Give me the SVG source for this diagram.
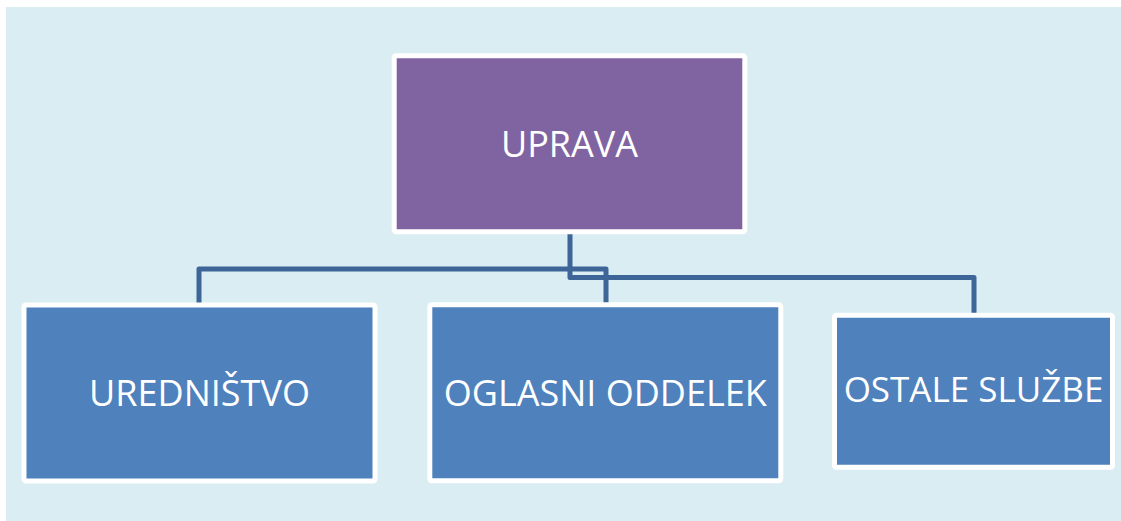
<svg xmlns="http://www.w3.org/2000/svg" width="1121" height="521" viewBox="0 0 1121 521">
<style>
.box{stroke:#ffffff;stroke-width:5;}
.top{fill:#8064a2;}
.sub{fill:#4f81bd;}
.lbl{font-family:"Open Sans","Liberation Sans",sans-serif;font-size:36px;fill:#ffffff;text-anchor:middle;}
.conn{fill:none;stroke:#3d6597;stroke-width:5;stroke-linejoin:round;}
</style>
<rect x="0" y="0" width="1121" height="521" fill="#ffffff"/>
<rect x="6" y="7" width="1115" height="514" fill="#daedf3"/>
<g id="connectors">
<path class="conn" d="M570,233 V277.5 H974 V314"/>
<path class="conn" d="M199,303 V269 H606 V303"/>
</g>
<g id="node-uprava">
<rect class="box top" x="394.2" y="55.8" width="350.6" height="176" rx="2"/>
<text class="lbl" x="569.5" y="157">UPRAVA</text>
</g>
<g id="node-urednistvo">
<rect class="box sub" x="24" y="305" width="351" height="176" rx="2"/>
<text class="lbl" x="199.5" y="406">UREDNIŠTVO</text>
</g>
<g id="node-oglasni">
<rect class="box sub" x="429.8" y="304.8" width="351" height="176" rx="2"/>
<text class="lbl" x="605.3" y="406">OGLASNI ODDELEK</text>
</g>
<g id="node-ostale">
<rect class="box sub" x="834.5" y="315.2" width="278" height="152" rx="2"/>
<text class="lbl" x="973.5" y="402" style="font-size:35px">OSTALE SLUŽBE</text>
</g>
</svg>
